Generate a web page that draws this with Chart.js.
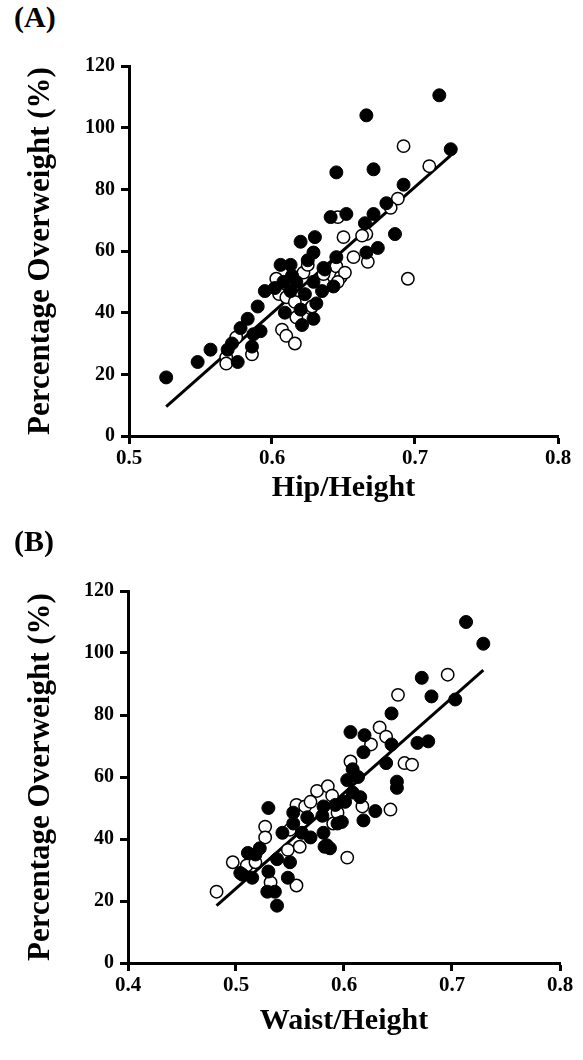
<!DOCTYPE html>
<html>
<head>
<meta charset="utf-8">
<script src="https://cdn.jsdelivr.net/npm/chart.js@4.4.1/dist/chart.umd.min.js"></script>
<style>
body { margin: 0; background: #fff; width: 583px; height: 1060px; position: relative; overflow: hidden; }
canvas { position: absolute; left: 0; }
.lbl { position: absolute; left: 14px; font: bold 30px 'Liberation Serif', serif; color: #000; }
</style>
</head>
<body>
<div class="lbl" style="top:0px">(A)</div>
<canvas id="chartA" width="583" height="530" style="top:0"></canvas>
<div class="lbl" style="top:524px">(B)</div>
<canvas id="chartB" width="583" height="535" style="top:525px"></canvas>
<script>
// panel A - hip/height
var hipFilledX = [0.526, 0.548, 0.557, 0.569, 0.572, 0.576, 0.578, 0.583, 0.586, 0.587, 0.592, 0.590, 0.595, 0.609, 0.621, 0.629,
    0.606, 0.613, 0.614, 0.613, 0.620, 0.629, 0.620, 0.623, 0.629, 0.631, 0.637, 0.617, 0.608, 0.645, 0.671, 0.692,
    0.680, 0.671, 0.665, 0.641, 0.652, 0.630, 0.686, 0.674, 0.666, 0.645, 0.636, 0.635, 0.643, 0.717, 0.666, 0.725, 0.602, 0.625];
var hipFilledY = [19, 24, 28, 28, 30, 24, 35, 38, 29, 33, 34, 42, 47, 40, 36, 38,
    55.5, 55.5, 52, 47, 63, 59.5, 41, 46, 50, 43, 54, 50, 50, 85.5, 86.5, 81.5,
    75.5, 72, 69, 71, 72, 64.5, 65.5, 61, 59.5, 58, 54.5, 47, 48.5, 110.5, 104, 93, 48, 57];
var hipOpenX = [0.575, 0.568, 0.568, 0.586, 0.607, 0.610, 0.616, 0.617, 0.627, 0.603, 0.605, 0.610, 0.616, 0.622, 0.625, 0.636,
    0.646, 0.688, 0.683, 0.666, 0.663, 0.650, 0.657, 0.667, 0.645, 0.695, 0.636, 0.648, 0.651, 0.646, 0.692, 0.710, 0.628];
var hipOpenY = [32, 25.5, 23.5, 26.5, 34.5, 32.5, 30, 38.5, 41.5, 51, 46, 45, 43.5, 53, 55.5, 49.5,
    71, 77, 74, 65.5, 65, 64.5, 58, 56.5, 55, 51, 52.5, 51.5, 53, 50, 94, 87.5, 42];
var hipLineX = [0.526, 0.725];
var hipLineY = [9.5, 91];

// panel B - waist/height
var waistFilledX = [0.530, 0.543, 0.511, 0.522, 0.518, 0.506, 0.515, 0.530, 0.538, 0.550, 0.548, 0.529, 0.536, 0.538, 0.553, 0.561,
    0.566, 0.569, 0.581, 0.582, 0.587, 0.580, 0.553, 0.584, 0.581, 0.594, 0.603, 0.608, 0.601, 0.504, 0.681, 0.703,
    0.644, 0.606, 0.619, 0.618, 0.644, 0.668, 0.678, 0.639, 0.608, 0.613, 0.649, 0.649, 0.615, 0.629, 0.618, 0.598,
    0.713, 0.729, 0.672, 0.592];
var waistFilledY = [50, 42, 35.5, 37, 35, 28.5, 27.5, 29.5, 33.5, 32.5, 27.5, 23, 23, 18.5, 48.5, 42,
    47, 40.5, 42, 37.5, 37, 47.5, 45, 38, 50.5, 45, 59, 55, 52, 29, 86, 85,
    80.5, 74.5, 73.5, 68, 70.5, 71, 71.5, 64.5, 62.5, 60, 58.5, 56.5, 53.5, 49, 46, 45.5,
    110, 103, 92, 51];
var waistOpenX = [0.482, 0.497, 0.507, 0.510, 0.518, 0.527, 0.527, 0.532, 0.556, 0.550, 0.548, 0.559, 0.556, 0.564, 0.590, 0.594,
    0.569, 0.575, 0.585, 0.589, 0.603, 0.650, 0.633, 0.639, 0.625, 0.606, 0.656, 0.663, 0.617, 0.643, 0.696];
var waistOpenY = [23, 32.5, 29.5, 31.5, 32.5, 44, 40.5, 26, 25, 43, 36.5, 37.5, 51, 50.5, 45, 48.5,
    52, 55.5, 57, 54, 34, 86.5, 76, 73, 70.5, 65, 64.5, 64, 50.5, 49.5, 93];
var waistLineX = [0.482, 0.729];
var waistLineY = [18.5, 94.5];

var yTicks = [0, 20, 40, 60, 80, 100, 120];

function pts(xs, ys) {
    var out = [];
    for (var i = 0; i < xs.length; i++) {
        out.push({x: xs[i], y: ys[i]});
    }
    return out;
}

function makeChart(id, p) {
    var font = {family: "'Liberation Serif', serif", weight: 'bold'};
    new Chart(document.getElementById(id), {
        type: 'scatter',
        data: {
            datasets: [{
                data: pts(p.fx, p.fy),
                pointRadius: 6.5,
                pointHoverRadius: 6.5,
                backgroundColor: '#000',
                borderColor: '#000',
                borderWidth: 1
            }, {
                data: pts(p.ox, p.oy),
                pointRadius: 6.2,
                pointHoverRadius: 6.2,
                backgroundColor: '#fff',
                borderColor: '#000',
                borderWidth: 1.5
            }, {
                type: 'line',
                data: pts(p.lx, p.ly),
                borderColor: '#000',
                borderWidth: 3,
                pointRadius: 0,
                fill: false
            }]
        },
        options: {
            responsive: false,
            animation: false,
            devicePixelRatio: 1,
            layout: {padding: {left: 0, right: p.right, top: p.top, bottom: 0}},
            plugins: {legend: {display: false}, tooltip: {enabled: false}},
            scales: {
                x: {
                    type: 'linear',
                    min: p.xmin,
                    max: 0.8,
                    afterFit: function (s) { s.height = p.xh; },
                    afterBuildTicks: function (s) {
                        s.ticks = p.xticks.map(function (v) { return {value: v}; });
                    },
                    border: {display: true, color: '#000', width: 3},
                    grid: {drawOnChartArea: false, drawTicks: true, tickLength: 8, tickWidth: 3, tickColor: '#000'},
                    ticks: {
                        color: '#000', padding: 2,
                        font: Object.assign({size: 21}, font),
                        callback: function (v) { return v.toFixed(1); }
                    },
                    title: {
                        display: true, text: p.xtitle, color: '#000',
                        font: Object.assign({size: 30}, font),
                        padding: {top: 0, bottom: p.xtpad}
                    }
                },
                y: {
                    type: 'linear',
                    min: 0,
                    max: 120,
                    afterFit: function (s) { s.width = p.left; },
                    afterBuildTicks: function (s) {
                        s.ticks = yTicks.map(function (v) { return {value: v}; });
                    },
                    border: {display: true, color: '#000', width: 3},
                    grid: {drawOnChartArea: false, drawTicks: true, tickLength: 8, tickWidth: 3, tickColor: '#000'},
                    ticks: {
                        color: '#000', padding: 6,
                        font: Object.assign({size: 20}, font)
                    },
                    title: {
                        display: true, text: 'Percentage Overweight (%)', color: '#000',
                        font: Object.assign({size: 31}, font),
                        padding: {top: 22, bottom: 0}
                    }
                }
            }
        }
    });
}

makeChart('chartA', {
    fx: hipFilledX, fy: hipFilledY, ox: hipOpenX, oy: hipOpenY, lx: hipLineX, ly: hipLineY,
    xmin: 0.5, xticks: [0.5, 0.6, 0.7, 0.8], xtitle: 'Hip/Height',
    left: 129, right: 25, top: 66, xh: 94, xtpad: 24
});
makeChart('chartB', {
    fx: waistFilledX, fy: waistFilledY, ox: waistOpenX, oy: waistOpenY, lx: waistLineX, ly: waistLineY,
    xmin: 0.4, xticks: [0.4, 0.5, 0.6, 0.7, 0.8], xtitle: 'Waist/Height',
    left: 128, right: 23, top: 66, xh: 97, xtpad: 21
});
</script>
</body>
</html>
